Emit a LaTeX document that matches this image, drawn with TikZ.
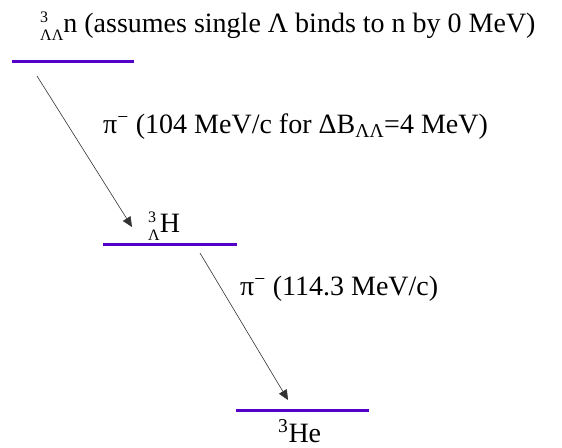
\documentclass[tikz,border=0pt]{standalone}
\usepackage{fontspec}
\setmainfont{Liberation Serif}
\usetikzlibrary{arrows.meta}

\definecolor{levelcol}{RGB}{85,0,200}

% nuclide: mass number above, hyperons below, then symbol
\newcommand{\nucl}[3]{\rlap{\raisebox{10pt}{\fontsize{16}{16}\selectfont #1}}\raisebox{-8pt}{\fontsize{16}{16}\selectfont #2}#3}

\tikzset{
    level/.style={draw=levelcol,line width=3pt},
    decay/.style={draw=black!80,line width=0.6pt,-{Triangle[length=10pt,width=9pt]}},
    lbl/.style={inner sep=0pt,anchor=base west,font=\fontsize{28}{32}\selectfont}
}

\begin{document}
\begin{tikzpicture}[x=1pt,y=-1pt,line cap=butt]
    \useasboundingbox (0,0) rectangle (562,447);

    % energy levels
    \coordinate (L1a) at (12,61);
    \coordinate (L1b) at (134,61);
    \coordinate (L2a) at (103,244);
    \coordinate (L2b) at (237,244);
    \coordinate (L3a) at (236,410);
    \coordinate (L3b) at (369,410);

    \draw[level] (L1a)--(L1b);
    \draw[level] (L2a)--(L2b);
    \draw[level] (L3a)--(L3b);

    % decay arrows
    \coordinate (A1) at (37,76);
    \coordinate (A2) at (132,227);
    \coordinate (A3) at (200,253);
    \coordinate (A4) at (288,400);

    \draw[decay] (A1)--(A2);
    \draw[decay] (A3)--(A4);

    % labels
    \node[lbl] (nn) at (40,32) {\nucl{3}{ΛΛ}{n} (assumes single Λ binds to n by 0 MeV)};
    \node[lbl] (pi1) at (103,133) {π\textsuperscript{−} (104 MeV/c for ΔB\textsubscript{ΛΛ}=4 MeV)};
    \node[lbl] (hh) at (148,232) {\nucl{3}{Λ}{H}};
    \node[lbl] (pi2) at (240,295) {π\textsuperscript{−} (114.3 MeV/c)};
    \node[lbl] (he) at (278,442) {\textsuperscript{3}He};
\end{tikzpicture}
\end{document}
